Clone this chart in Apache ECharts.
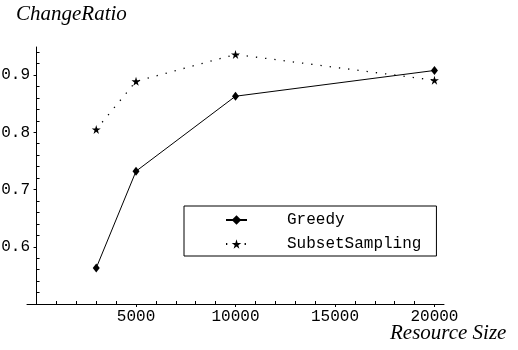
<!DOCTYPE html>
<html><head><meta charset="utf-8">
<script src="https://cdn.jsdelivr.net/npm/echarts@6/dist/echarts.min.js"></script>
<style>html,body{margin:0;padding:0;background:#fff}#c{width:518px;height:350px}</style>
</head><body><div id="c"></div>
<script>
var resourceSizes = [3000, 5000, 10000, 20000];
var greedy = [0.563, 0.732, 0.863, 0.908];
var subsetSampling = [0.805, 0.889, 0.936, 0.891];
var xMajorTicks = [5000, 10000, 15000, 20000];
var xMinorTicks = [1000, 2000, 3000, 4000, 6000, 7000, 8000, 9000, 11000, 12000, 13000, 14000, 16000, 17000, 18000, 19000];
var yMajorTicks = [0.6, 0.7, 0.8, 0.9];
var yMinorTicks = [0.52, 0.54, 0.56, 0.58, 0.62, 0.64, 0.66, 0.68, 0.72, 0.74, 0.76, 0.78, 0.82, 0.84, 0.86, 0.88, 0.92, 0.94];

var mono = 'Liberation Mono';
var star = 'path://M50,0 L61,35 L98,35 L68,57 L79,91 L50,70 L21,91 L32,57 L2,35 L39,35 Z';

function pairs(xs, ys){ return xs.map(function(x,i){return [x, ys[i]];}); }

var chart = echarts.init(document.getElementById('c'), null, {renderer:'canvas'});
var xBase = {type:'value', min:-480, max:20480, position:'bottom', splitLine:{show:false}};
var yBase = {type:'value', min:0.5, max:0.949, splitLine:{show:false}};
chart.setOption({
  animation:false,
  backgroundColor:'#fff',
  grid:{left:27, right:74, top:47, bottom:46, containLabel:false, outerBoundsMode:'none'},
  xAxis:[
    Object.assign({}, xBase, {
      axisLine:{show:true, lineStyle:{color:'#000', width:1}},
      axisTick:{show:true, inside:false, length:3, customValues:xMajorTicks, lineStyle:{color:'#000'}},
      axisLabel:{show:true, customValues:xMajorTicks, color:'#000', fontFamily:mono, fontSize:16, margin:5,
        formatter:function(v){return String(v);}}
    }),
    Object.assign({}, xBase, {
      axisLine:{show:false},
      axisTick:{show:true, inside:true, length:3, customValues:xMinorTicks, lineStyle:{color:'#000'}},
      axisLabel:{show:false}
    })
  ],
  yAxis:[
    Object.assign({}, yBase, {
      axisLine:{show:true, onZero:true, lineStyle:{color:'#000', width:1}},
      axisTick:{show:true, inside:false, length:3, customValues:yMajorTicks, lineStyle:{color:'#000'}},
      axisLabel:{show:true, customValues:yMajorTicks, color:'#000', fontFamily:mono, fontSize:16, margin:-3,
        formatter:function(v){return v.toFixed(1);}}
    }),
    Object.assign({}, yBase, {
      position:'left',
      axisLine:{show:false, onZero:true},
      axisTick:{show:true, inside:true, length:3, customValues:yMinorTicks, lineStyle:{color:'#000'}},
      axisLabel:{show:false}
    })
  ],
  legend:{
    orient:'vertical', left:184, top:206,
    borderColor:'#000', borderWidth:1, backgroundColor:'#fff',
    padding:[6, 15, 4, 41],
    itemWidth:21, itemHeight:12, itemGap:8,
    textStyle:{fontFamily:mono, fontSize:16, color:'#000', padding:[0,0,0,35]},
    data:['Greedy','SubsetSampling']
  },
  graphic:[
    {type:'text', left:16, top:4, style:{text:'ChangeRatio', font:'italic 21px "Liberation Serif"', fill:'#000'}},
    {type:'text', left:390, top:323, style:{text:'Resource Size', font:'italic 21px "Liberation Serif"', fill:'#000'}}
  ],
  series:[
    {name:'Greedy', type:'line', xAxisIndex:0, yAxisIndex:0, data:pairs(resourceSizes, greedy),
     symbol:'diamond', symbolSize:[7,9], itemStyle:{color:'#000'},
     lineStyle:{color:'#000', width:1}},
    {name:'SubsetSampling', type:'line', xAxisIndex:0, yAxisIndex:0, data:pairs(resourceSizes, subsetSampling),
     symbol:star, symbolSize:9, itemStyle:{color:'#000'},
     lineStyle:{color:'#000', width:1.3, type:[1.3, 8]}}
  ]
});
</script></body></html>
